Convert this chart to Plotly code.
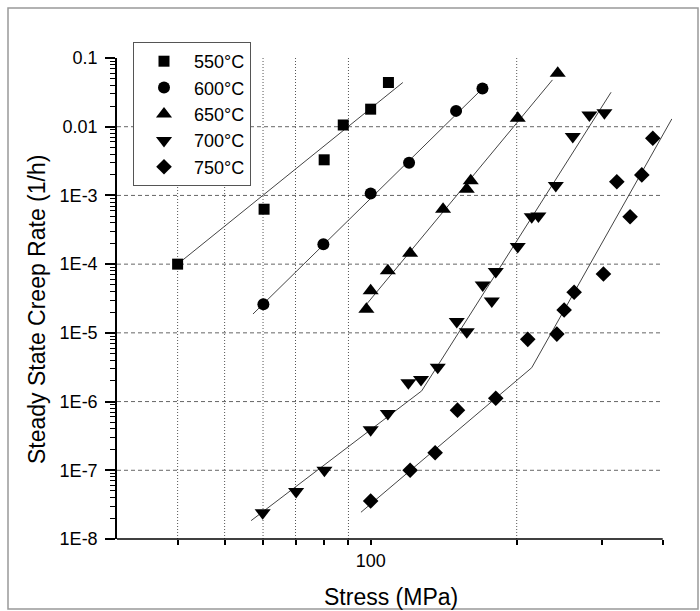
import math
import plotly.graph_objects as go

# ---------------- data ----------------
stress_550 = [40, 60.3, 80.2, 87.8, 100, 108.8]
rate_550 = [1.0e-4, 6.3e-4, 3.3e-3, 1.06e-2, 1.8e-2, 4.4e-2]

stress_600 = [60.1, 79.9, 100, 120, 150, 170]
rate_600 = [2.6e-5, 1.95e-4, 1.07e-3, 3.0e-3, 1.7e-2, 3.6e-2]

stress_650 = [98, 100, 108.5, 120.6, 141, 157.8, 160.8, 201, 243]
rate_650 = [2.2e-5, 4.1e-5, 8.0e-5, 1.44e-4, 6.3e-4, 1.23e-3, 1.64e-3, 1.33e-2, 6.0e-2]

stress_700 = [59.9, 70.2, 80.3, 100, 108.5, 119.6, 127, 137.5, 150.5, 157.8,
              170.2, 177.7, 181.1, 201, 214.8, 221.7, 240.8, 261, 282.4, 303.3]
rate_700 = [2.4e-8, 4.9e-8, 1.0e-7, 3.9e-7, 6.7e-7, 1.88e-6, 2.1e-6, 3.16e-6, 1.46e-5, 1.04e-5,
            4.98e-5, 2.9e-5, 7.8e-5, 1.8e-4, 4.9e-4, 5.0e-4, 1.39e-3, 7.2e-3, 1.48e-2, 1.6e-2]

stress_750 = [100, 120.6, 135.8, 151, 181.1, 210.8, 242, 250.5, 262.7, 301.9,
              321.7, 342.6, 362.2, 381.6]
rate_750 = [3.57e-8, 1.0e-7, 1.8e-7, 7.5e-7, 1.12e-6, 8.05e-6, 9.6e-6, 2.15e-5, 3.89e-5, 7.2e-5,
            1.58e-3, 4.9e-4, 1.99e-3, 6.8e-3]

# fitted (power-law) lines
fit_stress_550 = [40, 116.5]
fit_rate_550 = [1.0e-4, 4.4e-2]
fit_stress_600 = [57.2, 173.6]
fit_rate_600 = [1.88e-5, 4.15e-2]
fit_stress_650 = [97.8, 237]
fit_rate_650 = [2.55e-5, 4.8e-2]
fit_stress_700 = [56.7, 127.4, 313]
fit_rate_700 = [1.85e-8, 1.43e-6, 3.17e-2]
fit_stress_750 = [95.5, 214.8, 417.7]
fit_rate_750 = [2.45e-8, 3.11e-6, 1.3e-2]

series_names = ["550°C", "600°C", "650°C", "700°C", "750°C"]

x_tick_values = [40, 50, 60, 70, 80, 90, 100, 200, 300, 400]
x_tick_labels = ["", "", "", "", "", "", "100", "", "", ""]
x_grid_values = [40, 50, 60, 70, 90, 200]

y_tick_values = [1e-8, 1e-7, 1e-6, 1e-5, 1e-4, 1e-3, 1e-2, 1e-1]
y_tick_labels = ["1E-8", "1E-7", "1E-6", "1E-5", "1E-4", "1E-3", "0.01", "0.1"]
y_grid_values = [1e-7, 1e-6, 1e-5, 1e-4, 1e-3, 1e-2]

x_min, x_axis_end, x_max = 30, 400, 418
y_min, y_max = 1e-8, 1e-1

# ---------------- figure ----------------
FONT = "Liberation Sans, Arial, Helvetica, sans-serif"
xlo, xhi = math.log10(x_min), math.log10(x_max)
ylo, yhi = math.log10(y_min), math.log10(y_max)


def fx(v):
    return (math.log10(v) - xlo) / (xhi - xlo)


def fy(v):
    return (math.log10(v) - ylo) / (yhi - ylo)


fig = go.Figure()

data = [
    (stress_550, rate_550, fit_stress_550, fit_rate_550, "square", 11),
    (stress_600, rate_600, fit_stress_600, fit_rate_600, "circle", 12),
    (stress_650, rate_650, fit_stress_650, fit_rate_650, "triangle-up", 14),
    (stress_700, rate_700, fit_stress_700, fit_rate_700, "triangle-down", 14),
    (stress_750, rate_750, fit_stress_750, fit_rate_750, "diamond", 12),
]

for (xs, ys, fxs, fys, sym, size), name in zip(data, series_names):
    fig.add_trace(go.Scatter(
        x=fxs, y=fys, mode="lines",
        line=dict(color="#444444", width=1),
        showlegend=False, hoverinfo="skip",
    ))

for (xs, ys, fxs, fys, sym, size), name in zip(data, series_names):
    fig.add_trace(go.Scatter(
        x=xs, y=ys, mode="markers", name=name,
        marker=dict(symbol=sym, size=size, color="black", line=dict(width=0)),
        cliponaxis=False,
    ))

shapes = []
for g in x_grid_values:
    shapes.append(dict(type="line", xref="x domain", yref="y domain",
                       x0=fx(g), x1=fx(g), y0=0, y1=1, layer="below",
                       line=dict(color="#555555", width=1, dash="1px,2px")))
for g in y_grid_values:
    shapes.append(dict(type="line", xref="x domain", yref="y domain",
                       x0=0, x1=fx(x_axis_end), y0=fy(g), y1=fy(g), layer="below",
                       line=dict(color="#666666", width=1, dash="4px,3px")))
# bottom axis line (ends at 400 MPa)
shapes.append(dict(type="line", xref="x domain", yref="y domain",
                   x0=0, x1=fx(x_axis_end), y0=0, y1=0, layer="above",
                   line=dict(color="black", width=1.5)))
# outer frame
W, H = 700, 611
ml, mr, mt, mb = 117, 28, 58, 72
pw, ph = W - ml - mr, H - mt - mb


def px2paper(px, py):
    return (px - ml) / pw, (H - mb - py) / ph


fx0, fy0 = px2paper(8, 8)
fx1, fy1 = px2paper(698, 609)
shapes.append(dict(type="rect", xref="paper", yref="paper",
                   x0=fx0, x1=fx1, y0=fy1, y1=fy0, layer="below",
                   line=dict(color="#999999", width=1.5)))

ytx, yty = px2paper(37, 310)
xtx, xty = px2paper(391, 597)
annotations = [
    dict(text="Steady State Creep Rate (1/h)", xref="paper", yref="paper",
         x=ytx, y=yty, xanchor="center", yanchor="middle", textangle=-90,
         showarrow=False, font=dict(family=FONT, size=23, color="black")),
    dict(text="Stress (MPa)", xref="paper", yref="paper",
         x=xtx, y=xty, xanchor="center", yanchor="middle",
         showarrow=False, font=dict(family=FONT, size=23, color="black")),
]

minor_y = [m * 10 ** e for e in range(-8, -1) for m in range(2, 10)]

lgx, lgy = px2paper(133, 42)

fig.update_layout(
    width=W, height=H,
    margin=dict(l=ml, r=mr, t=mt, b=mb, pad=0),
    paper_bgcolor="white", plot_bgcolor="white",
    font=dict(family=FONT, size=18, color="black"),
    shapes=shapes, annotations=annotations,
    legend=dict(x=lgx, y=lgy, xanchor="left", yanchor="top",
                bgcolor="white", bordercolor="#555555", borderwidth=1,
                font=dict(family=FONT, size=18, color="black"),
                itemwidth=50, tracegroupgap=0),
    xaxis=dict(type="log", range=[xlo, xhi], showline=False, showgrid=False,
               zeroline=False, ticks="outside", ticklen=5, tickwidth=1.5,
               tickcolor="black", tickvals=x_tick_values, ticktext=x_tick_labels,
               tickfont=dict(family=FONT, size=18, color="black")),
    yaxis=dict(type="log", range=[ylo, yhi], showline=True, linecolor="black",
               linewidth=1.5, showgrid=False, zeroline=False,
               ticks="outside", ticklen=10, tickwidth=1.5, tickcolor="black",
               tickvals=y_tick_values, ticktext=y_tick_labels,
               ticklabelstandoff=4,
               tickfont=dict(family=FONT, size=18, color="black"),
               minor=dict(tickvals=minor_y, ticks="outside", ticklen=5,
                          tickwidth=1, tickcolor="black", showgrid=False)),
)

fig.write_html("out.html")
